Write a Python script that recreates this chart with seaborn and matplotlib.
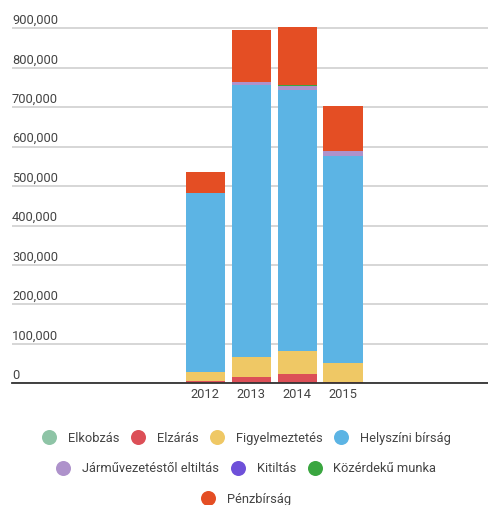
import matplotlib
matplotlib.use('Agg')
import matplotlib.pyplot as plt
import matplotlib.transforms as mtransforms
from matplotlib.lines import Line2D
import seaborn as sns
import pandas as pd
import numpy as np

# ---- data ----
years = ['2012', '2013', '2014', '2015']
series_names = ['Elkobzás', 'Elzárás', 'Figyelmeztetés', 'Helyszíni bírság',
                'Járművezetéstől eltiltás', 'Kitiltás', 'Közérdekű munka', 'Pénzbírság']
elkobzas = [200, 300, 300, 200]
elzaras = [6600, 16000, 23600, 3000]
figyelmeztetes = [22800, 50000, 57400, 48000]
helyszini_birsag = [452600, 690000, 663000, 526000]
jarmuvezetestol_eltiltas = [1000, 7000, 9000, 11000]
kitiltas = [0, 300, 300, 300]
kozerdeku_munka = [500, 1500, 1500, 1000]
penzbirsag = [51000, 129500, 149200, 113700]
ytick_values = [0, 100000, 200000, 300000, 400000, 500000, 600000, 700000, 800000, 900000]

series_values = [elkobzas, elzaras, figyelmeztetes, helyszini_birsag,
                 jarmuvezetestol_eltiltas, kitiltas, kozerdeku_munka, penzbirsag]
colors = ['#8ec4a6', '#dc4f57', '#efc865', '#5cb4e4',
          '#ae92cb', '#6e50d9', '#3aa640', '#e44e24']

sns.set_style('white')
plt.rcParams['font.family'] = ['Roboto', 'DejaVu Sans']

W, H = 489, 505
fig = plt.figure(figsize=(W / 100, H / 100), dpi=100)
ax_left = 12 / W
ax_bottom = (H - 383.3) / H
ax_top = (H - 24.4) / H
ax = fig.add_axes([ax_left, ax_bottom, 1 - ax_left, ax_top - ax_bottom])

bottom = np.zeros(len(years))
for name, vals, col in zip(series_names, series_values, colors):
    df = pd.DataFrame({'year': years, 'value': vals})
    sns.barplot(data=df, x='year', y='value', order=years, color=col,
                saturation=1, width=0.85, errorbar=None, linewidth=0,
                bottom=bottom.copy(), ax=ax, zorder=3)
    bottom += np.array(vals, dtype=float)

ax.set_xlim(-4.21, 6.18)
ax.set_ylim(0, 910000)
ax.set_xlabel('')
ax.set_ylabel('')

# grid
ax.set_yticks(ytick_values)
ax.set_yticklabels([])
ax.tick_params(axis='y', length=0, left=False, labelleft=False)
ax.yaxis.grid(True, color='#cccccc', linewidth=1.1, zorder=0)
ax.xaxis.grid(False)
ax.set_axisbelow(True)
for s in ['top', 'right', 'left']:
    ax.spines[s].set_visible(False)
ax.spines['bottom'].set_color('#333333')
ax.spines['bottom'].set_linewidth(1.3)
ax.spines['bottom'].set_zorder(5)

# y labels inside plot, above gridlines
offset = mtransforms.ScaledTranslation(0, 3.2 / 72, fig.dpi_scale_trans)
for v in ytick_values:
    ax.text(0, v, f'{v:,}', transform=ax.get_yaxis_transform() + offset,
            ha='left', va='baseline', fontsize=9.3, color='#444444')

ax.tick_params(axis='x', length=0, pad=3.5, labelsize=9.3, labelcolor='#444444')

# legend in centered rows
rows = [[0, 1, 2, 3], [4, 5, 6], [7]]
row_y = [438.3, 469.0, 499.0]
for idxs, yy in zip(rows, row_y):
    handles = [Line2D([], [], marker='o', linestyle='', markersize=10.8,
                      markerfacecolor=colors[i], markeredgewidth=0) for i in idxs]
    labels = [series_names[i] for i in idxs]
    leg = fig.legend(handles, labels, loc='center', bbox_to_anchor=(246 / W, (H - yy) / H),
                     ncol=len(idxs), frameon=False, fontsize=9.3, handlelength=1.2,
                     handletextpad=0.85, columnspacing=0.85, borderpad=0, borderaxespad=0)
    for t in leg.get_texts():
        t.set_color('#444444')

fig.savefig('out.png', dpi=100)
